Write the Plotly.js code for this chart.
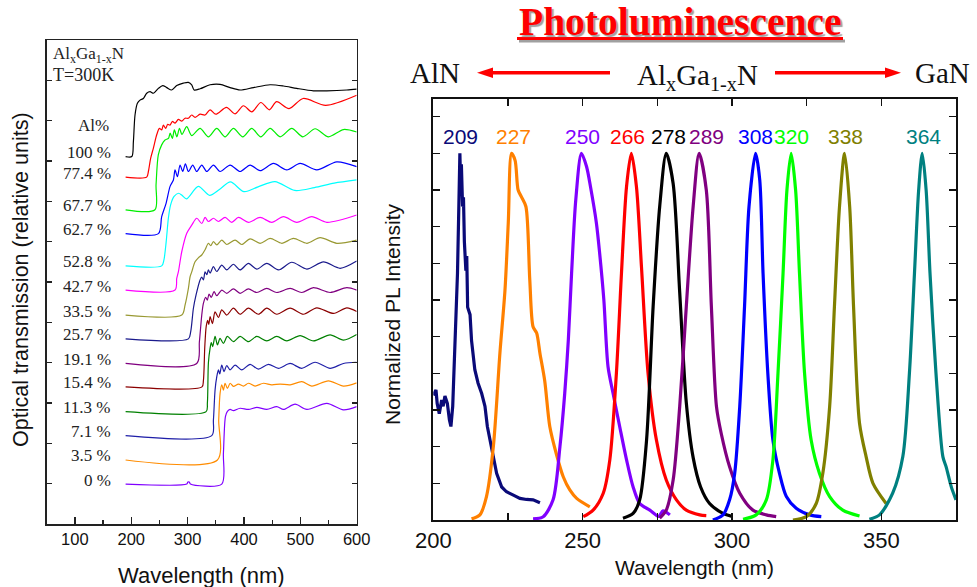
<!DOCTYPE html>
<html>
<head>
<meta charset="utf-8">
<script src="https://cdn.plot.ly/plotly-3.0.1.min.js"></script>
<style>html,body{margin:0;padding:0;background:#fff;}#chart{width:977px;height:587px;}</style>
</head>
<body>
<div id="chart"></div>
<script>
// ---------- Left panel: optical transmission (relative units) ----------
const t100_x = [190,201,203.8,206.7,210.9,215.6,221.5,227.4,233.4,239.3,248.1,255.8,263,271.8,280.7,292.5,301.4,307.3,311.5,322.1,339.9,357.6,375.4,393.1,416.8,446.4,470.1,493.7,523.3,547,582.5,600];
const t100_y = [9.11,9.11,9.48,10.14,10.43,10.51,10.55,10.68,10.72,10.68,10.8,10.87,10.82,10.76,10.87,10.93,10.95,10.89,10.76,10.79,10.89,10.9,10.82,10.76,10.82,10.89,10.86,10.8,10.74,10.74,10.76,10.78];
const t774_x = [190,227.4,230.4,234.5,239.3,245.2,249.9,254,257,261.2,264.7,268.8,273,277.7,283.6,289.6,295.5,301.4,307.3,313.2,322.1,331,339.9,350,369,384,399,414,430,445,458,480,505,545,600];
const t774_y = [8.6,8.6,8.74,9.07,9.32,9.65,9.81,9.77,9.89,9.81,9.91,9.89,9.98,9.94,10.03,9.99,10.06,10.06,10.14,10.08,10.16,10.14,10.27,10.16,10.33,10.17,10.37,10.22,10.45,10.27,10.47,10.3,10.55,10.38,10.63];
const t677_x = [190,242,244,248,254,260,266,269,273,276.5,281,285.5,290,298.4,307.3,322.1,336.9,351.7,366.5,381.3,397.9,413.8,429.8,446.4,464.1,484.8,504.4,526.3,549.9,576.5,600];
const t677_y = [7.79,7.79,8.41,9.15,9.4,9.52,9.56,9.69,9.56,9.77,9.6,9.81,9.66,9.85,9.63,9.81,9.6,9.81,9.6,9.81,9.6,9.81,9.6,9.81,9.6,9.81,9.6,9.8,9.6,9.78,9.72];
const t627_x = [190,248.2,254,261.8,268.9,274.8,277.7,281.9,286.6,291.4,296.1,301.4,309.1,316.2,325.1,334,345.8,357.6,375.4,393.1,410.9,428.6,452.3,476,499.6,529.2,564.7,600];
const t627_y = [7.2,7.2,7.62,7.95,8.37,8.53,8.78,8.61,8.9,8.74,8.93,8.74,8.9,8.74,8.9,8.74,8.9,8.74,8.9,8.74,8.9,8.76,8.94,8.78,8.94,8.78,8.98,8.86];
const t528_x = [190,254,258,262,266,270,276,284,290,298,319,339,357,376,400,425,455,490,525,560,600];
const t528_y = [6.4,6.4,6.55,7.0,7.6,7.92,8.12,8.2,8.15,8.06,8.37,8.15,8.3,8.48,8.24,8.36,8.49,8.27,8.34,8.45,8.53];
const t427_x = [190,277.7,280.7,283.6,289.6,298.5,307.3,316.2,325.1,331,336.9,345.8,354.7,366.5,378.3,390.2,407.9,428.6,449.3,470.1,493.7,520.3,547,600];
const t427_y = [5.8,5.8,6.09,6.25,6.75,7.21,7.41,7.58,7.45,7.6,7.5,7.58,7.5,7.6,7.48,7.6,7.48,7.6,7.48,7.62,7.48,7.62,7.48,7.66];
const t335_x = [190,289.6,295.5,301.4,304.4,307.3,313.2,319,325.1,331,336.9,341,345.8,351.7,360.6,369.4,384.2,396,410.9,428.6,446.4,467.1,487.8,511.5,535.1,564.7,600];
const t335_y = [5.18,5.18,5.43,5.84,6.13,6.25,6.5,6.6,6.67,6.8,6.96,6.9,7.0,6.92,7.04,6.93,7.04,6.93,7.07,6.96,7.08,6.96,7.08,6.96,7.1,6.96,7.04];
const t257_x = [190,301.4,305.5,310.3,315,322.1,325.1,328,331,334,336.9,339.9,345.8,351.7,360.6,369.4,381.3,393.1,407.9,422.7,440.5,461.2,484.8,511.5,541,570.6,600];
const t257_y = [4.59,4.59,4.77,5.35,5.68,6.05,6.12,6.05,6.25,6.18,6.3,6.22,6.38,6.26,6.42,6.3,6.44,6.3,6.46,6.32,6.46,6.3,6.49,6.32,6.5,6.34,6.52];
const t191_x = [190,316.2,320.9,325.1,328,332,335,338,342,347,351.7,360.6,369.4,381.3,393.1,407.9,422.7,440.5,458.2,481.9,502.6,523.3,552.9,582.5,600];
const t191_y = [3.98,3.98,4.52,5.18,5.47,5.62,5.55,5.7,5.62,5.76,5.66,5.8,5.72,5.83,5.72,5.83,5.74,5.84,5.74,5.84,5.74,5.86,5.74,5.86,5.8];
const t154_x = [190,325.5,328,330.5,333,335.5,337.5,340,344,348.7,354.7,360.6,369.4,381.3,393.1,407.9,425.6,440.5,458.2,481.9,505.5,529.2,558.8,582.5,600];
const t154_y = [3.4,3.4,3.55,4.4,4.9,5.05,4.95,5.14,4.97,5.26,5.12,5.31,5.18,5.35,5.2,5.35,5.2,5.35,5.2,5.35,5.2,5.36,5.22,5.36,5.27];
const t113_x = [190,332.8,335.1,336.9,339.9,342,344.5,348.7,352.9,357.6,363.5,370.6,381.3,393.1,407.9,422.7,440.5,458.2,476,499.6,523.3,552.9,576.5,600];
const t113_y = [2.785,2.785,3.0,4.0,4.36,4.5,4.4,4.65,4.44,4.6,4.48,4.65,4.52,4.65,4.52,4.65,4.54,4.65,4.54,4.67,4.54,4.69,4.56,4.7];
const t071_x = [190,342.8,345.8,348.7,351.7,354.7,357,360.6,364.7,369.4,375.4,384.2,396,410.9,425.6,443.4,461.2,481.9,502.6,526.2,552.9,576.5,600];
const t071_y = [2.19,2.19,2.58,3.32,3.65,3.82,3.72,3.94,3.78,3.93,3.82,3.94,3.82,3.96,3.84,3.96,3.86,3.98,3.86,4.01,3.86,3.98,4.01];
const t035_x = [190,352.9,355.2,357.6,360.6,363.5,366.5,370.6,375.4,381.3,390.2,399,407.9,419.7,434.5,449.3,464.1,481.9,502.6,520.3,549.9,576.5,600];
const t035_y = [1.587,1.587,2.58,3.24,3.45,3.32,3.49,3.36,3.49,3.41,3.47,3.42,3.49,3.42,3.49,3.45,3.47,3.45,3.53,3.42,3.55,3.42,3.5];
const t000_x = [190,298.5,300.5,303,305,360.6,363.5,367.1,370.6,375.4,381.3,393.1,407.9,422.7,440.5,458.2,470.1,490.7,511.5,547,576.5,600];
const t000_y = [0.99,0.99,1.04,1.04,0.99,0.99,1.75,2.66,2.79,2.84,2.81,2.87,2.84,2.89,2.84,2.91,2.84,2.97,2.84,2.99,2.83,2.91];

const alLabels = ['100 %','77.4 %','67.7 %','62.7 %','52.8 %','42.7 %','33.5 %','25.7 %','19.1 %','15.4 %','11.3 %','7.1 %','3.5 %','0 %'];
const transX = [t100_x,t774_x,t677_x,t627_x,t528_x,t427_x,t335_x,t257_x,t191_x,t154_x,t113_x,t071_x,t035_x,t000_x];
const transY = [t100_y,t774_y,t677_y,t627_y,t528_y,t427_y,t335_y,t257_y,t191_y,t154_y,t113_y,t071_y,t035_y,t000_y];
const transColors = ['#000000','#ff0000','#00ee00','#0000ff','#00ffff','#ff00ff','#999933','#1a1a8c','#800080','#8b0000','#008000','#1f1fa8','#ff8c00','#8000ff'];

// ---------- Right panel: normalized PL ----------
const peakLabels = ['209','227','250','266','278','289','308','320','338','364'];
const pl209_x = [200,200.9,201.3,202.0,202.8,203.3,203.9,204.7,205.4,205.9,206.5,207.0,207.6,208.1,208.5,208.9,209.2,209.4,209.8,210.1,210.4,210.9,211.2,211.5,212.3,212.8,213.9,215.0,216.2,217.3,218.1,219.0,220.1,221.2,222.9,224.5,226.8,229.0,231.2,233.4,235.7];
const pl209_y = [0.34,0.355,0.318,0.29,0.327,0.31,0.338,0.318,0.273,0.255,0.31,0.41,0.527,0.673,0.836,1.0,0.9,0.97,0.855,0.88,0.76,0.68,0.72,0.58,0.56,0.49,0.41,0.373,0.345,0.31,0.255,0.218,0.173,0.127,0.09,0.077,0.068,0.059,0.056,0.055,0.047];
const pl227_x = [212.8,215.6,217.8,220.1,222.3,224.0,225.1,226.2,227.4,228.4,229.6,231.0,232.3,233.4,234.6,235.7,237.3,239.0,241.2,243.5,245.7,248.0,252.4];
const pl227_y = [0.003,0.014,0.064,0.2,0.455,0.627,0.81,1.0,0.98,0.9,0.88,0.855,0.655,0.527,0.51,0.455,0.38,0.255,0.18,0.118,0.082,0.059,0.036];
const pl250_x = [233.4,236.8,240.1,242.4,244.0,245.2,246.3,247.7,249.6,251.3,252.6,254.6,255.7,257.1,258.5,260.2,262.4,264.7,266.9,269.1,272.5,275.5,276.9,279.2];
const pl250_y = [0.003,0.009,0.055,0.2,0.345,0.49,0.673,0.873,1.0,0.964,0.91,0.81,0.727,0.6,0.418,0.345,0.255,0.164,0.09,0.045,0.027,0.01,0.025,0.014];
const pl266_x = [250.2,253.5,256.9,259.1,261.3,263.0,264.7,266.3,268.0,269.7,271.9,274.7,278.0,281.4,284.7,289.2,291.4];
const pl266_y = [0.009,0.027,0.073,0.164,0.4,0.673,0.91,1.0,0.91,0.69,0.4,0.218,0.109,0.055,0.027,0.014,0.012];
const pl278_x = [263.5,266.9,269.1,271.4,273.6,275.8,278.0,280.3,282.5,284.7,287.0,289.5,292.5,297,300];
const pl278_y = [0.005,0.018,0.055,0.218,0.582,0.855,1.0,0.918,0.62,0.32,0.17,0.09,0.045,0.018,0.01];
const pl289_x = [275.8,278.0,280.3,282.5,284.7,287.0,289.0,291.4,293.1,294.8,296.4,299.2,302.6,307,311.5,314.8];
const pl289_y = [0.005,0.027,0.109,0.31,0.582,0.855,1.0,0.9,0.582,0.31,0.236,0.145,0.073,0.027,0.014,0.009];
const pl308_x = [293.6,297,299.2,300.9,302.6,304.2,305.7,307.9,309.3,310.4,312.0,313.7,315.9,318.2,321.5,326,329.9];
const pl308_y = [0,0.014,0.055,0.127,0.31,0.582,0.855,1.0,0.927,0.673,0.4,0.218,0.127,0.064,0.032,0.014,0.009];
const pl320_x = [303.7,308.1,311.5,313.7,315.4,317.1,318.4,319.8,321.3,322.6,324.3,326.5,329.3,332.7,337.1,342.7];
const pl320_y = [0.002,0.014,0.055,0.164,0.4,0.673,0.9,1.0,0.9,0.673,0.4,0.218,0.127,0.064,0.027,0.011];
const pl338_x = [320.4,324.9,328.2,330.4,332.7,334.3,336.0,337.7,339.4,340.7,342.7,344.9,347.2,351.6];
const pl338_y = [0,0.009,0.045,0.127,0.31,0.582,0.855,1.0,0.855,0.582,0.264,0.173,0.1,0.045];
const pl364_x = [346.0,349.4,353.8,357.2,359.4,361.1,362.5,363.7,365.0,366.3,368.3,370.6,371.7,373.4,375];
const pl364_y = [0.002,0.014,0.073,0.173,0.4,0.673,0.9,1.0,0.9,0.673,0.4,0.173,0.145,0.091,0.055];

const plX = [pl209_x,pl227_x,pl250_x,pl266_x,pl278_x,pl289_x,pl308_x,pl320_x,pl338_x,pl364_x];
const plY = [pl209_y,pl227_y,pl250_y,pl266_y,pl278_y,pl289_y,pl308_y,pl320_y,pl338_y,pl364_y];
const plColors = ['#0a0a78','#ff8000','#8000ff','#ff0000','#000000','#800080','#0000ff','#00ff00','#808000','#008080'];
const plLabelShift = [0,0,0,-3,2,7,0,0,0,0];

const W = 977, H = 587;
const px = v => v / W, py = v => 1 - v / H;
const SERIF = 'Liberation Serif, Times New Roman, serif';
const SANS = 'Arial, Liberation Sans, sans-serif';

const traces = [];
transX.forEach((xs, i) => {
  traces.push({x: xs, y: transY[i], type: 'scatter', mode: 'lines', xaxis: 'x', yaxis: 'y',
    line: {color: transColors[i], width: 1.2, shape: 'spline', smoothing: 0.8}, hoverinfo: 'skip'});
});
plX.forEach((xs, i) => {
  traces.push({x: xs, y: plY[i], type: 'scatter', mode: 'lines', xaxis: 'x2', yaxis: 'y2',
    line: {color: plColors[i], width: 3.2, shape: i === 0 ? 'linear' : 'spline', smoothing: 0.8}, hoverinfo: 'skip'});
});

const ann = [];
// left-panel composition labels, placed at each curve's baseline
alLabels.forEach((t, i) => {
  ann.push({xref: 'x', yref: 'y', x: 168, y: transY[i][0], yshift: 4, text: t, showarrow: false, xanchor: 'right', yanchor: 'middle',
    font: {family: SERIF, size: 17, color: '#222'}});
});
ann.push({xref: 'paper', yref: 'paper', x: px(93), y: py(125), text: 'Al%', showarrow: false, xanchor: 'center', yanchor: 'middle', font: {family: SERIF, size: 17, color: '#222'}});
ann.push({xref: 'paper', yref: 'paper', x: px(51), y: py(55), text: 'Al<sub>x</sub>Ga<sub>1-x</sub>N', showarrow: false, xanchor: 'left', yanchor: 'middle', font: {family: SERIF, size: 17, color: '#222'}});
ann.push({xref: 'paper', yref: 'paper', x: px(51), y: py(75), text: 'T=300K', showarrow: false, xanchor: 'left', yanchor: 'middle', font: {family: SERIF, size: 18, color: '#222'}});
// axis titles
ann.push({xref: 'paper', yref: 'paper', x: px(21), y: py(280), text: 'Optical transmission (relative units)', textangle: -90, showarrow: false, xanchor: 'center', yanchor: 'middle', font: {family: SANS, size: 21.5, color: '#111'}});
ann.push({xref: 'paper', yref: 'paper', x: px(201), y: py(575), text: 'Wavelength (nm)', showarrow: false, xanchor: 'center', yanchor: 'middle', font: {family: SANS, size: 22, color: '#111'}});
ann.push({xref: 'paper', yref: 'paper', x: px(392), y: py(315), text: 'Normalized PL Intensity', textangle: -90, showarrow: false, xanchor: 'center', yanchor: 'middle', font: {family: SANS, size: 21, color: '#111'}});
ann.push({xref: 'paper', yref: 'paper', x: px(694), y: py(567), text: 'Wavelength (nm)', showarrow: false, xanchor: 'center', yanchor: 'middle', font: {family: SANS, size: 21, color: '#111'}});
// peak labels
peakLabels.forEach((t, i) => {
  ann.push({xref: 'x2', yref: 'y2', x: parseFloat(t), y: 1.047, xshift: plLabelShift[i], text: t, showarrow: false, xanchor: 'center', yanchor: 'middle',
    font: {family: SANS, size: 21, color: plColors[i]}});
});
// title and header
ann.push({xref: 'paper', yref: 'paper', x: px(680), y: py(22), text: '<b>Photoluminescence</b>', showarrow: false, xanchor: 'center', yanchor: 'middle',
  font: {family: SERIF, size: 39.5, color: '#ff0000', shadow: '2px 2px 1px #a0a0a0'}});
ann.push({xref: 'paper', yref: 'paper', x: px(435), y: py(73), text: 'AlN', showarrow: false, xanchor: 'center', yanchor: 'middle', font: {family: SERIF, size: 29, color: '#111'}});
ann.push({xref: 'paper', yref: 'paper', x: px(697), y: py(77), text: 'Al<sub>x</sub>Ga<sub>1-x</sub>N', showarrow: false, xanchor: 'center', yanchor: 'middle', font: {family: SERIF, size: 29, color: '#111'}});
ann.push({xref: 'paper', yref: 'paper', x: px(942), y: py(73), text: 'GaN', showarrow: false, xanchor: 'center', yanchor: 'middle', font: {family: SERIF, size: 29, color: '#111'}});

// decorative underline with shadow, and header arrows
const shapes = [
  {type: 'line', xref: 'paper', yref: 'paper', x0: px(519), x1: px(845), y0: py(41), y1: py(41), line: {color: '#a0a0a0', width: 3}},
  {type: 'line', xref: 'paper', yref: 'paper', x0: px(517), x1: px(843), y0: py(38.5), y1: py(38.5), line: {color: '#ff0000', width: 3}},
  {type: 'line', xref: 'paper', yref: 'paper', x0: px(610), x1: px(490), y0: py(72.7), y1: py(72.7), line: {color: '#ff0000', width: 3.5}},
  {type: 'path', xref: 'paper', yref: 'paper', path: `M ${px(477)} ${py(72.7)} L ${px(493)} ${py(67.5)} L ${px(493)} ${py(77.9)} Z`, fillcolor: '#ff0000', line: {width: 0}},
  {type: 'line', xref: 'paper', yref: 'paper', x0: px(775), x1: px(888), y0: py(72.7), y1: py(72.7), line: {color: '#ff0000', width: 3.5}},
  {type: 'path', xref: 'paper', yref: 'paper', path: `M ${px(901)} ${py(72.7)} L ${px(885)} ${py(67.5)} L ${px(885)} ${py(77.9)} Z`, fillcolor: '#ff0000', line: {width: 0}}
];

const axCommon = {showgrid: false, zeroline: false, showline: true, ticks: 'inside', automargin: false};
const layout = {
  width: W, height: H, margin: {l: 0, r: 0, t: 0, b: 0}, paper_bgcolor: '#fff', plot_bgcolor: '#fff', showlegend: false,
  xaxis: Object.assign({}, axCommon, {domain: [px(46.7), px(356.7)], range: [50, 600], anchor: 'y',
    tickvals: [100,200,300,400,500,600], ticklen: 7, tickwidth: 1.3, tickcolor: '#222', linecolor: '#222', linewidth: 1.5, mirror: true,
    tickfont: {family: SANS, size: 16.5, color: '#111'},
    minor: {tickvals: [150,250,350,450,550], ticks: 'inside', ticklen: 4, tickcolor: '#222', tickwidth: 1.2}}),
  yaxis: Object.assign({}, axCommon, {domain: [1 - 524/H, 1 - 40/H], range: [0, 12], anchor: 'x', tick0: 0, dtick: 1,
    ticklen: 5, tickwidth: 1.3, tickcolor: '#222', linecolor: '#222', linewidth: 1.5, mirror: 'ticks', showticklabels: false}),
  xaxis2: Object.assign({}, axCommon, {domain: [px(433.3), px(956)], range: [200, 375], anchor: 'y2',
    tickvals: [200,250,300,350], ticklen: 7, tickwidth: 1.5, tickcolor: '#111', linecolor: '#111', linewidth: 2, mirror: 'ticks',
    tickfont: {family: SANS, size: 22, color: '#111'},
    minor: {tickvals: [225,275,325,375], ticks: 'inside', ticklen: 7, tickcolor: '#111', tickwidth: 1.5}}),
  yaxis2: Object.assign({}, axCommon, {domain: [1 - 520/H, 1 - 98.7/H], range: [0, 1.149], anchor: 'x2', tick0: 0, dtick: 0.1,
    ticklen: 7, tickwidth: 1.5, tickcolor: '#111', linecolor: '#111', linewidth: 2, mirror: 'ticks', showticklabels: false}),
  annotations: ann,
  shapes: shapes
};

Plotly.newPlot('chart', traces, layout, {staticPlot: true, displayModeBar: false});
</script>
</body>
</html>
